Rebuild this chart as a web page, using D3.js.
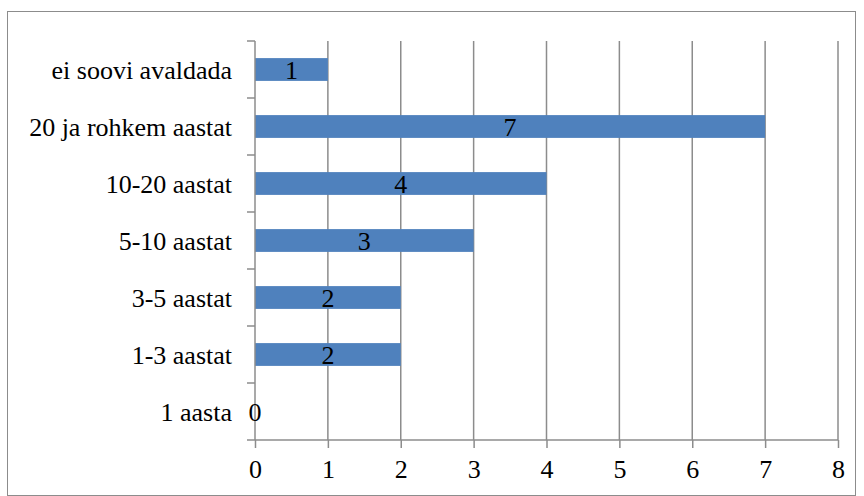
<!DOCTYPE html>
<html>
<head>
<meta charset="utf-8">
<script src="https://cdn.jsdelivr.net/npm/d3@7"></script>
<style>
  body { margin: 0; background: #fff; }
  svg { display: block; }
  svg text { font-family: "Liberation Serif", Tinos, "Times New Roman", Times, "DejaVu Serif", serif; font-size: 26px; fill: #000; }
</style>
</head>
<body>
<div id="chart"></div>
<script>
// data, top row first
const categories = ['ei soovi avaldada', '20 ja rohkem aastat', '10-20 aastat', '5-10 aastat', '3-5 aastat', '1-3 aastat', '1 aasta'];
const values = [1, 7, 4, 3, 2, 2, 0];
const xTicks = [0, 1, 2, 3, 4, 5, 6, 7, 8];

const W = 864, H = 496;
const plotLeft = 255, plotRight = 838, plotTop = 41, plotBottom = 440;
const gridColor = '#8c8c8c';

const svg = d3.select('#chart').append('svg')
    .attr('width', W).attr('height', H);

// outer frame
svg.append('rect')
    .attr('x', 7.5).attr('y', 11.5)
    .attr('width', 848).attr('height', 484)
    .attr('fill', 'none').attr('stroke', gridColor).attr('stroke-width', 1);

const x = d3.scaleLinear().domain([0, 8]).range([plotLeft, plotRight]);
const y = d3.scaleBand().domain(categories).range([plotTop, plotBottom])
    .paddingInner(0.6).paddingOuter(0.3);

// vertical gridlines
svg.append('g').selectAll('line')
    .data(xTicks.slice(1))
    .join('line')
    .attr('x1', d => x(d)).attr('x2', d => x(d))
    .attr('y1', plotTop).attr('y2', plotBottom)
    .attr('stroke', gridColor).attr('stroke-width', 1.5);

// bars
svg.append('g').selectAll('rect')
    .data(values)
    .join('rect')
    .attr('x', x(0))
    .attr('y', (d, i) => y(categories[i]))
    .attr('width', d => x(d) - x(0))
    .attr('height', y.bandwidth())
    .attr('fill', '#4f81bd');

// bottom axis
const xAxis = svg.append('g')
    .attr('transform', `translate(0,${plotBottom})`)
    .call(d3.axisBottom(x).tickValues(xTicks).tickSize(8).tickPadding(12).tickSizeOuter(0));
xAxis.attr('font-family', null).attr('font-size', null);
xAxis.select('.domain').remove();
xAxis.append('line')
    .attr('x1', plotLeft - 8).attr('x2', plotRight)
    .attr('stroke', gridColor).attr('stroke-width', 1.5);
xAxis.selectAll('.tick line').attr('stroke', gridColor).attr('stroke-width', 1.5);
xAxis.selectAll('.tick text').attr('fill', '#000');

// left axis: ticks at category boundaries
const bounds = d3.range(categories.length).map(i => plotTop + i * y.step());
const yAxis = svg.append('g');
yAxis.append('line')
    .attr('x1', plotLeft).attr('x2', plotLeft)
    .attr('y1', plotTop).attr('y2', plotBottom)
    .attr('stroke', gridColor).attr('stroke-width', 1.5);
yAxis.selectAll('line.tk')
    .data(bounds)
    .join('line')
    .attr('class', 'tk')
    .attr('x1', plotLeft - 8).attr('x2', plotLeft)
    .attr('y1', d => d).attr('y2', d => d)
    .attr('stroke', gridColor).attr('stroke-width', 1.5);
yAxis.selectAll('text')
    .data(categories)
    .join('text')
    .attr('x', plotLeft - 23)
    .attr('y', d => y(d) + y.bandwidth() / 2)
    .attr('dy', '0.35em')
    .attr('text-anchor', 'end')
    .text(d => d);

// value labels
svg.append('g').selectAll('text')
    .data(values)
    .join('text')
    .attr('x', d => (x(0) + x(d)) / 2)
    .attr('y', (d, i) => y(categories[i]) + y.bandwidth() / 2)
    .attr('dy', '0.35em')
    .attr('text-anchor', 'middle')
    .text(d => d);
</script>
</body>
</html>
